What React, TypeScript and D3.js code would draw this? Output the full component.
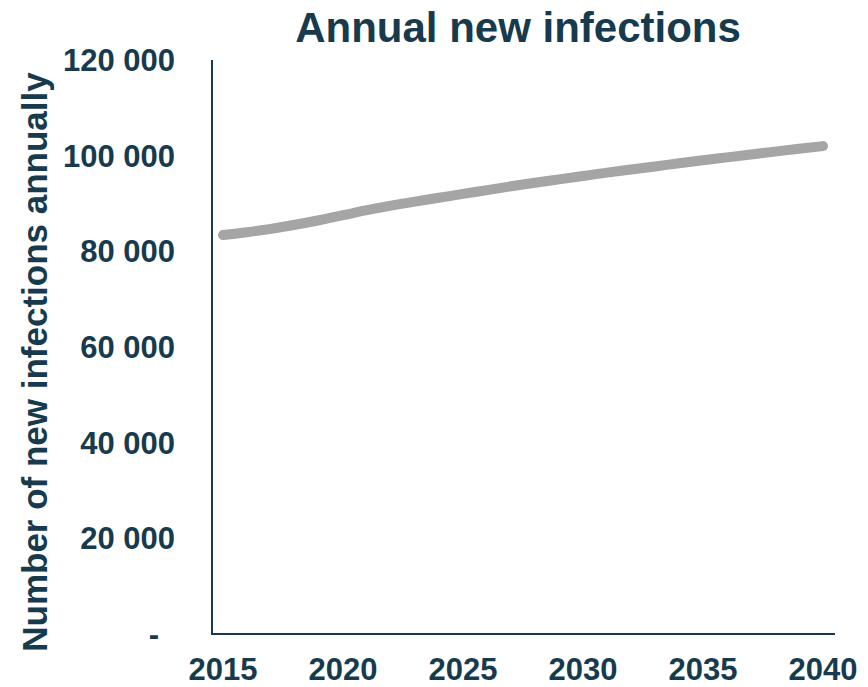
import { useMemo } from "react";
import * as d3 from "d3";

// Chart size (matches the window)
const WIDTH = 868;
const HEIGHT = 687;
// Plot area in pixels
const PLOT = { left: 212, right: 835, top: 60, bottom: 634 };
const NAVY = "#173a4d";
const LINE_GREY = "#a5a5a5";
const FONT = "'Liberation Sans', Arial, sans-serif";

// Data
const years = [
  2015, 2016, 2017, 2018, 2019, 2020, 2021, 2022, 2023, 2024, 2025, 2026, 2027,
  2028, 2029, 2030, 2031, 2032, 2033, 2034, 2035, 2036, 2037, 2038, 2039, 2040,
];
const infections = [
  83400, 84000, 84700, 85550, 86500, 87550, 88600, 89550, 90400, 91200, 92000,
  92800, 93600, 94350, 95050, 95750, 96450, 97100, 97750, 98400, 99050, 99650,
  100250, 100850, 101450, 102000,
];
const xTicks = [2015, 2020, 2025, 2030, 2035, 2040];
const yTicks = [0, 20000, 40000, 60000, 80000, 100000, 120000];
const title = "Annual new infections";
const yTitle = "Number of new infections annually";

// "120 000" style, zero shown as a dash
const formatTick = (v: number) =>
  v === 0 ? "-" : d3.format(",")(v).replace(/,/g, " ");

export default function App() {
  const xScale = useMemo(
    () => d3.scaleLinear().domain([2015, 2040]).range([223, 823]),
    []
  );
  const yScale = useMemo(
    () => d3.scaleLinear().domain([0, 120000]).range([PLOT.bottom, PLOT.top]),
    []
  );

  const path = useMemo(() => {
    const line = d3
      .line<number>()
      .x((_, i) => xScale(years[i]))
      .y((d) => yScale(d))
      .curve(d3.curveMonotoneX);
    return line(infections);
  }, [xScale, yScale]);

  return (
    <svg
      width={WIDTH}
      height={HEIGHT}
      style={{ position: "absolute", left: 0, top: 0, background: "#fff" }}
      fontFamily={FONT}
      fontWeight="bold"
      fill={NAVY}
    >
      {/* Title */}
      <text x={518} y={42} textAnchor="middle" fontSize={42}>
        {title}
      </text>

      {/* Y axis title */}
      <text
        transform={`translate(47, 362) rotate(-90)`}
        textAnchor="middle"
        fontSize={35}
      >
        {yTitle}
      </text>

      {/* Axes */}
      <path
        d={`M${PLOT.left},${PLOT.top}V${PLOT.bottom}H${PLOT.right}`}
        fill="none"
        stroke={NAVY}
        strokeWidth={2}
      />

      {/* Y tick labels */}
      {yTicks.map((t) => (
        <text
          key={t}
          x={t === 0 ? 159 : 175}
          y={yScale(t) + 11}
          textAnchor="end"
          fontSize={31}
        >
          {formatTick(t)}
        </text>
      ))}

      {/* X tick labels */}
      {xTicks.map((t) => (
        <text key={t} x={xScale(t)} y={680} textAnchor="middle" fontSize={31}>
          {t}
        </text>
      ))}

      {/* Series */}
      <path
        d={path || undefined}
        fill="none"
        stroke={LINE_GREY}
        strokeWidth={10}
        strokeLinecap="round"
        strokeLinejoin="round"
      />
    </svg>
  );
}
